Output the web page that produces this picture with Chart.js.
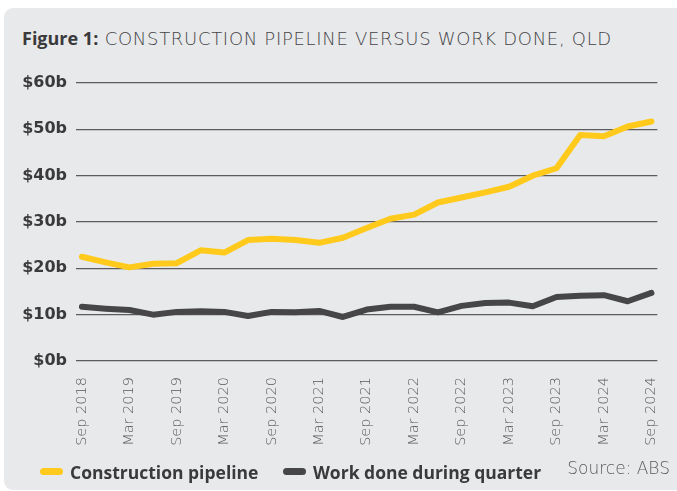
<!DOCTYPE html>
<html>
<head>
<meta charset="utf-8">
<script src="https://cdn.jsdelivr.net/npm/chart.js@4.4.1/dist/chart.umd.min.js"></script>
<style>
    html, body { margin: 0; padding: 0; background: #ffffff; }
    body { width: 677px; height: 491px; position: relative; overflow: hidden; font-family: "DejaVu Sans", sans-serif; }
    .panel { position: absolute; left: 4px; top: 8px; width: 680px; height: 482px; background: #e8e9eb; border-radius: 9px; }
    .titulo { position: absolute; left: 22px; top: 26px; font-size: 18px; color: #444446; font-weight: 200; white-space: nowrap; letter-spacing: 0.7px; }
    .titulo b { font-family: "Open Sans", sans-serif; font-weight: 700; color: #3a3a3c; letter-spacing: 0; }
    #grafico { position: absolute; left: 0; top: 0; }
    .leyenda { position: absolute; left: 40px; top: 456px; font-family: "Open Sans", sans-serif; font-size: 17.5px; font-weight: 700; color: #3a3a3c; white-space: nowrap; }
    .leyenda span.item { display: inline-flex; align-items: center; margin-right: 20px; }
    .leyenda i { display: inline-block; width: 23px; height: 7px; border-radius: 4px; margin-right: 7px; }
    .fuente { position: absolute; right: 7px; top: 458px; font-size: 17px; font-weight: 200; color: #5a5a5c; }
</style>
</head>
<body>
<div class="panel"></div>
<div class="titulo"><b>Figure 1:</b> CONSTRUCTION PIPELINE VERSUS WORK DONE, QLD</div>
<canvas id="grafico" width="677" height="491"></canvas>
<div class="leyenda">
    <span class="item"><i style="background:#ffca1c"></i>Construction pipeline</span>
    <span class="item"><i style="background:#464648"></i>Work done during quarter</span>
</div>
<div class="fuente">Source: ABS</div>

<script>
// Trimestres Sep 2018 - Sep 2024
const trimestres = [
    'Sep 2018', 'Dec 2018', 'Mar 2019', 'Jun 2019', 'Sep 2019', 'Dec 2019',
    'Mar 2020', 'Jun 2020', 'Sep 2020', 'Dec 2020', 'Mar 2021', 'Jun 2021',
    'Sep 2021', 'Dec 2021', 'Mar 2022', 'Jun 2022', 'Sep 2022', 'Dec 2022',
    'Mar 2023', 'Jun 2023', 'Sep 2023', 'Dec 2023', 'Mar 2024', 'Jun 2024', 'Sep 2024'
];
const pipeline = [
    22.5, 21.3, 20.2, 21.0, 21.1, 23.9, 23.4, 26.1, 26.4, 26.1, 25.5, 26.6,
    28.7, 30.7, 31.6, 34.2, 35.3, 36.4, 37.6, 40.0, 41.6, 48.8, 48.5, 50.6, 51.7
];
const trabajoHecho = [
    11.7, 11.3, 11.0, 10.0, 10.6, 10.75, 10.6, 9.7, 10.6, 10.5, 10.8, 9.5,
    11.1, 11.7, 11.7, 10.5, 11.9, 12.5, 12.6, 11.8, 13.8, 14.1, 14.2, 12.9, 14.7
];
const ticksY = [0, 10, 20, 30, 40, 50, 60];

const puntos = arr => arr.map((v, i) => ({ x: i, y: v }));

new Chart(document.getElementById('grafico'), {
    type: 'line',
    data: {
        datasets: [
            { label: 'Construction pipeline', data: puntos(pipeline), borderColor: '#ffca1c', borderWidth: 6, pointRadius: 0, borderCapStyle: 'round', borderJoinStyle: 'round', tension: 0 },
            { label: 'Work done during quarter', data: puntos(trabajoHecho), borderColor: '#464648', borderWidth: 6, pointRadius: 0, borderCapStyle: 'round', borderJoinStyle: 'round', tension: 0 }
        ]
    },
    options: {
        responsive: false,
        animation: false,
        layout: { padding: { left: 0, right: 18, top: 83, bottom: 0 } },
        plugins: { legend: { display: false }, tooltip: { enabled: false } },
        scales: {
            x: {
                type: 'linear',
                min: -0.25,
                max: 24.25,
                afterBuildTicks: s => { s.ticks = trimestres.map((t, i) => ({ value: i })).filter(t => t.value % 2 === 0); },
                afterFit: s => { s.height = 130; },
                grid: { display: false },
                border: { display: false },
                ticks: {
                    autoSkip: false,
                    maxRotation: 90,
                    minRotation: 90,
                    padding: 8,
                    color: '#58585a',
                    font: { family: 'DejaVu Sans', size: 14.5, weight: '200' },
                    callback: v => trimestres[v]
                }
            },
            y: {
                min: 0,
                max: 60,
                afterBuildTicks: s => { s.ticks = ticksY.map(v => ({ value: v })); },
                afterFit: s => { s.width = 76; },
                grid: { color: '#5c5c5e', lineWidth: 1.3, drawTicks: false },
                border: { display: false },
                ticks: {
                    padding: 9,
                    color: '#3a3a3c',
                    font: { family: 'DejaVu Sans', size: 16, weight: '700' },
                    callback: v => '$' + v + 'b'
                }
            }
        }
    }
});
</script>
</body>
</html>
